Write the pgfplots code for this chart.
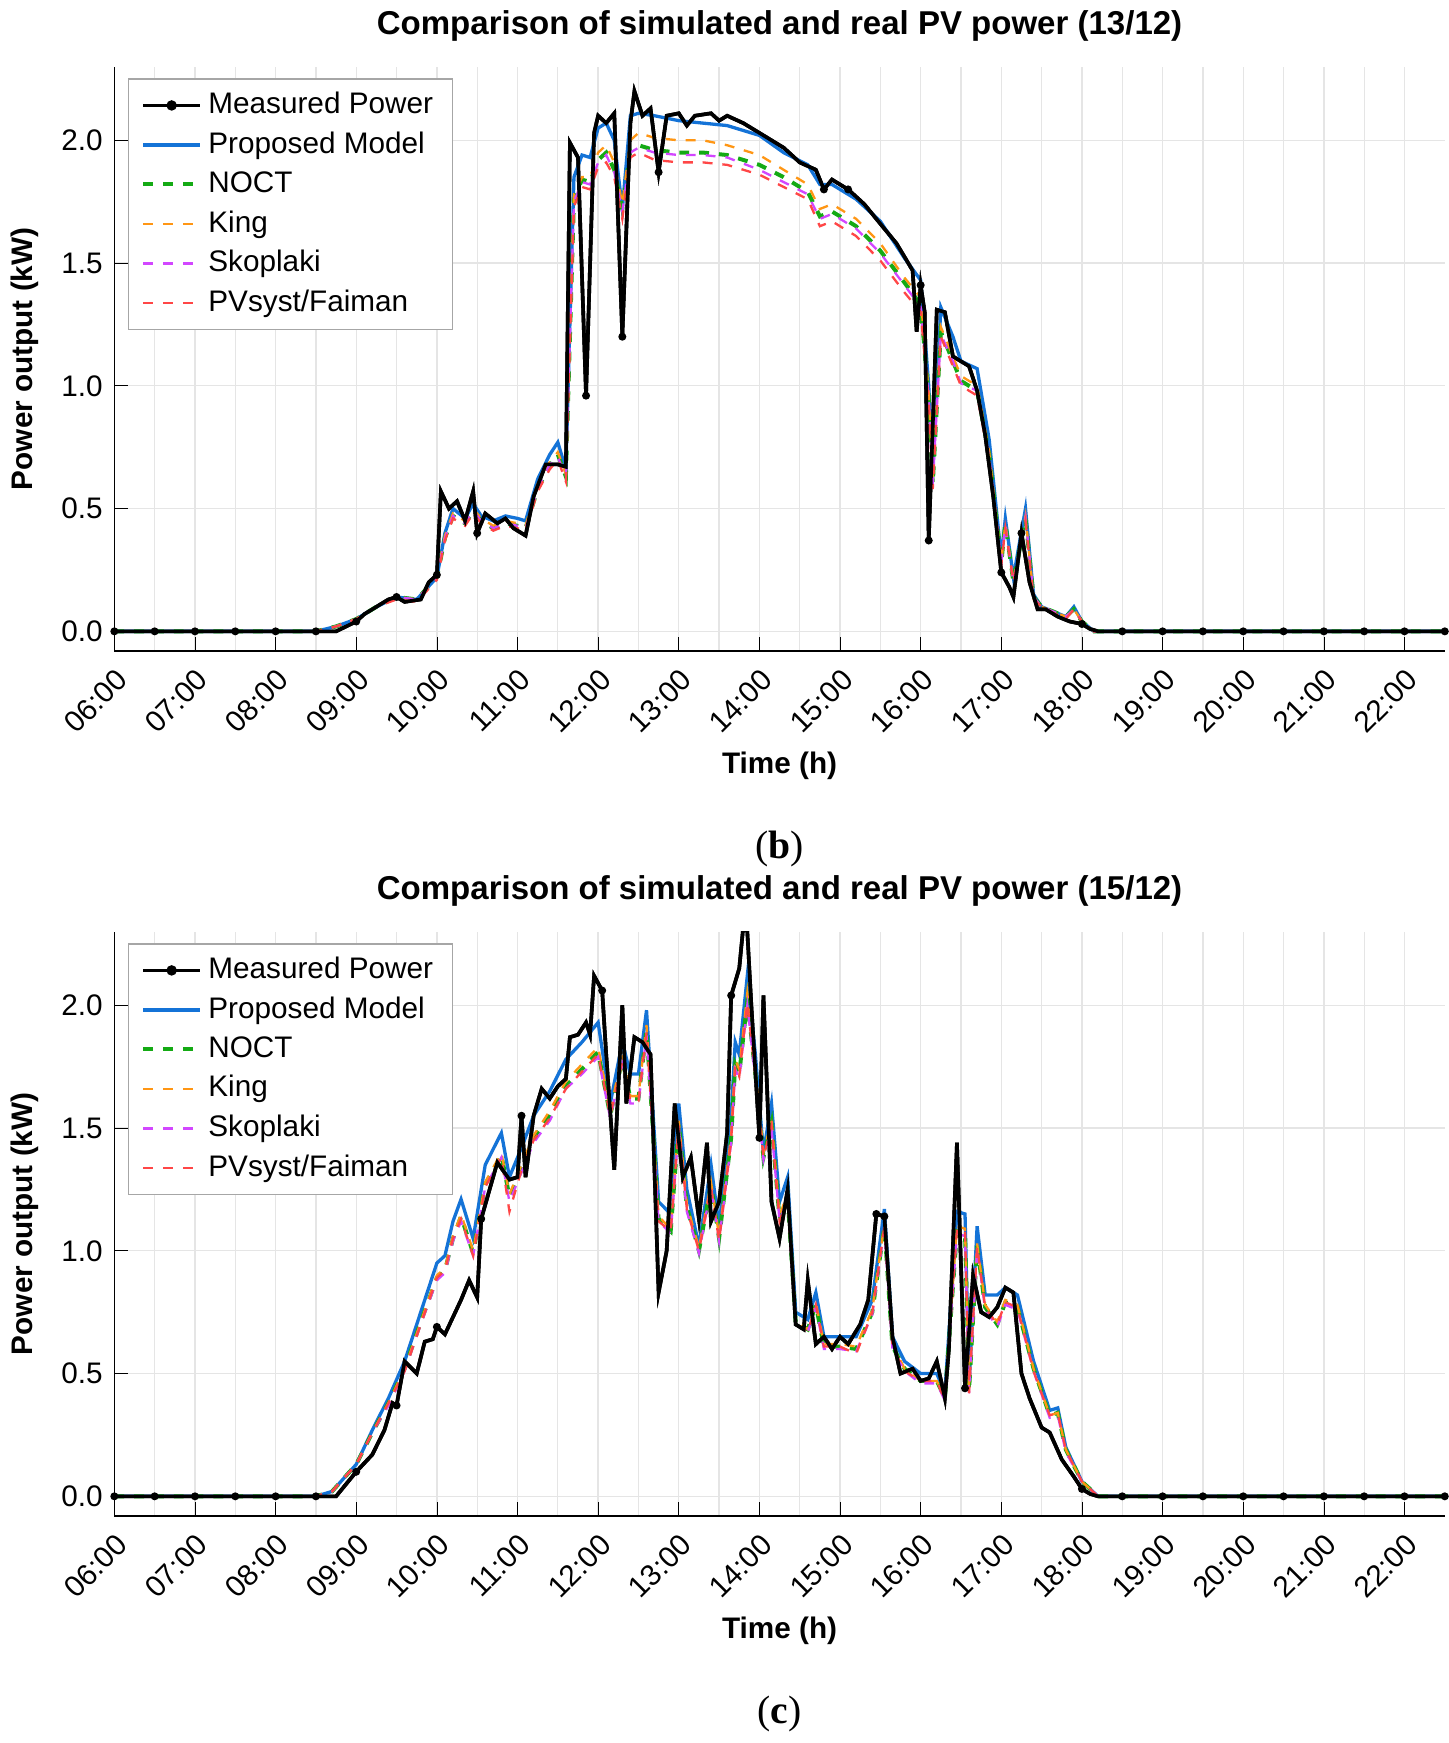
\documentclass[border=0pt]{standalone}
\usepackage{pgfplots}
\usepackage{pgfplotstable}
\pgfplotsset{compat=1.18}
\usepackage{fontspec}
\setmainfont{Liberation Sans}
\newfontfamily\seriffont{Liberation Serif}
\definecolor{cprop}{RGB}{20,115,215}
\definecolor{cnoct}{RGB}{20,170,20}
\definecolor{cking}{RGB}{255,150,20}
\definecolor{cskop}{RGB}{210,70,255}
\definecolor{cpvs}{RGB}{255,70,70}

\pgfplotstableread{
t m
6 0
8.5 0
8.75 0.0
9.0 0.04
9.1 0.07
9.25 0.1
9.4 0.13
9.5 0.14
9.6 0.12
9.8 0.13
9.9 0.2
10.0 0.23
10.05 0.57
10.15 0.5
10.25 0.53
10.35 0.45
10.45 0.57
10.5 0.4
10.6 0.48
10.75 0.44
10.85 0.46
10.95 0.42
11.1 0.39
11.2 0.55
11.35 0.68
11.5 0.68
11.6 0.67
11.65 1.99
11.75 1.93
11.85 0.96
11.95 2.03
12.0 2.1
12.1 2.07
12.2 2.11
12.3 1.2
12.4 2.07
12.45 2.2
12.55 2.1
12.65 2.13
12.75 1.87
12.85 2.1
13.0 2.11
13.1 2.06
13.2 2.1
13.4 2.11
13.5 2.08
13.6 2.1
13.8 2.07
14.0 2.03
14.3 1.97
14.5 1.91
14.7 1.88
14.8 1.8
14.9 1.84
15.1 1.8
15.3 1.74
15.5 1.66
15.7 1.58
15.9 1.47
15.95 1.22
16.0 1.41
16.05 1.3
16.1 0.37
16.2 1.31
16.3 1.3
16.4 1.12
16.6 1.08
16.7 0.98
16.8 0.8
16.9 0.55
17.0 0.24
17.1 0.18
17.15 0.14
17.25 0.4
17.35 0.2
17.45 0.09
17.55 0.09
17.7 0.06
17.85 0.04
18.0 0.03
18.1 0.01
18.2 0
22.5 0
}\measA

\pgfplotstableread{
t m
6 0
6.5 0
7 0
7.5 0
8 0
8.5 0
9 0.04
9.5 0.14
10 0.23
10.5 0.4
11.85 0.96
12.3 1.2
12.75 1.87
14.8 1.8
15.1 1.8
16.0 1.41
16.1 0.37
17.0 0.24
17.25 0.4
18.0 0.03
18.5 0
19 0
19.5 0
20 0
20.5 0
21 0
21.5 0
22 0
22.5 0
}\markA

\pgfplotstableread{
t p n k s f
6.0 0 0 0 0 0
8.5 0 0 0 0 0
8.75 0.02 0.02 0.02 0.02 0.02
9.0 0.05 0.05 0.05 0.05 0.05
9.25 0.1 0.1 0.1 0.1 0.1
9.5 0.14 0.14 0.14 0.14 0.13
9.75 0.13 0.13 0.13 0.13 0.12
10.0 0.22 0.22 0.22 0.22 0.21
10.1 0.4 0.38 0.39 0.38 0.37
10.2 0.5 0.47 0.48 0.47 0.46
10.35 0.46 0.44 0.45 0.44 0.43
10.45 0.52 0.49 0.5 0.49 0.48
10.55 0.47 0.45 0.46 0.45 0.44
10.7 0.45 0.42 0.43 0.42 0.41
10.85 0.47 0.44 0.45 0.44 0.43
11.0 0.46 0.43 0.44 0.43 0.42
11.1 0.45 0.42 0.43 0.42 0.41
11.25 0.62 0.58 0.6 0.58 0.57
11.4 0.72 0.68 0.69 0.68 0.66
11.5 0.77 0.72 0.73 0.71 0.7
11.6 0.66 0.63 0.64 0.63 0.61
11.7 1.85 1.76 1.78 1.75 1.73
11.8 1.94 1.84 1.85 1.83 1.81
11.9 1.93 1.83 1.85 1.82 1.8
12.0 2.05 1.92 1.95 1.91 1.89
12.1 2.07 1.95 1.98 1.94 1.91
12.2 2.0 1.88 1.91 1.87 1.85
12.3 1.72 1.72 1.74 1.71 1.68
12.4 2.1 1.96 2.0 1.95 1.93
12.5 2.11 1.98 2.03 1.97 1.95
12.7 2.1 1.96 2.01 1.95 1.92
13.0 2.08 1.95 2.0 1.94 1.91
13.3 2.07 1.95 2.0 1.94 1.91
13.6 2.06 1.94 1.98 1.93 1.9
14.0 2.02 1.9 1.94 1.88 1.86
14.3 1.95 1.85 1.88 1.83 1.81
14.6 1.9 1.79 1.82 1.78 1.76
14.75 1.82 1.69 1.72 1.68 1.65
14.9 1.82 1.71 1.74 1.7 1.67
15.2 1.76 1.65 1.68 1.64 1.61
15.5 1.67 1.55 1.58 1.54 1.51
15.8 1.52 1.42 1.44 1.41 1.38
16.0 1.43 1.33 1.36 1.32 1.3
16.1 1.0 0.95 0.97 0.95 0.93
16.15 0.65 0.6 0.62 0.6 0.58
16.25 1.32 1.22 1.24 1.21 1.2
16.4 1.2 1.1 1.12 1.1 1.08
16.5 1.1 1.02 1.04 1.01 1.0
16.7 1.07 0.98 1.0 0.98 0.96
16.85 0.78 0.72 0.73 0.71 0.7
17.0 0.3 0.28 0.28 0.28 0.27
17.05 0.46 0.44 0.44 0.43 0.42
17.15 0.22 0.2 0.2 0.2 0.2
17.3 0.5 0.46 0.47 0.46 0.45
17.4 0.15 0.14 0.14 0.14 0.13
17.5 0.1 0.1 0.1 0.1 0.1
17.8 0.06 0.06 0.06 0.06 0.05
17.9 0.1 0.09 0.09 0.09 0.09
18.0 0.04 0.04 0.04 0.04 0.04
18.15 0 0 0 0 0
22.5 0 0 0 0 0
}\modA

\pgfplotstableread{
t m
6 0
8.5 0
8.75 0.0
9.0 0.1
9.2 0.17
9.35 0.27
9.45 0.38
9.5 0.37
9.6 0.55
9.75 0.5
9.85 0.63
9.95 0.64
10.0 0.69
10.1 0.66
10.3 0.8
10.4 0.88
10.5 0.81
10.55 1.13
10.75 1.36
10.9 1.29
11.0 1.3
11.05 1.55
11.1 1.3
11.2 1.55
11.3 1.66
11.4 1.62
11.5 1.67
11.6 1.7
11.65 1.87
11.75 1.88
11.85 1.93
11.9 1.88
11.95 2.12
12.05 2.06
12.1 1.8
12.2 1.33
12.3 2.0
12.35 1.6
12.45 1.87
12.55 1.85
12.65 1.8
12.75 0.83
12.85 1.0
12.95 1.6
13.05 1.3
13.15 1.38
13.25 1.13
13.35 1.44
13.4 1.12
13.5 1.2
13.6 1.48
13.65 2.04
13.75 2.15
13.8 2.32
13.85 2.3
13.9 2.0
14.0 1.46
14.05 2.04
14.15 1.2
14.25 1.05
14.35 1.25
14.45 0.7
14.55 0.68
14.6 0.88
14.7 0.62
14.8 0.65
14.9 0.6
15.0 0.65
15.1 0.62
15.25 0.7
15.35 0.8
15.45 1.15
15.55 1.14
15.65 0.65
15.75 0.5
15.9 0.52
16.0 0.47
16.1 0.48
16.2 0.55
16.3 0.4
16.35 0.6
16.45 1.44
16.55 0.44
16.65 0.9
16.75 0.75
16.85 0.73
16.95 0.77
17.05 0.85
17.15 0.83
17.25 0.5
17.35 0.4
17.5 0.28
17.6 0.26
17.75 0.15
17.9 0.08
18.0 0.03
18.1 0.01
18.2 0
22.5 0
}\measB

\pgfplotstableread{
t m
6 0
6.5 0
7 0
7.5 0
8 0
8.5 0
9 0.1
9.5 0.37
10 0.69
10.55 1.13
11.05 1.55
12.05 2.06
13.65 2.04
14.0 1.46
15.45 1.15
15.55 1.14
16.55 0.44
18.0 0.03
18.5 0
19 0
19.5 0
20 0
20.5 0
21 0
21.5 0
22 0
22.5 0
}\markB

\pgfplotstableread{
t p n k s f
6.0 0 0 0 0 0
8.5 0 0 0 0 0
8.7 0.02 0.02 0.02 0.02 0.02
9.0 0.13 0.13 0.13 0.13 0.13
9.2 0.27 0.26 0.26 0.26 0.26
9.4 0.4 0.38 0.38 0.37 0.38
9.6 0.55 0.52 0.52 0.51 0.51
9.8 0.75 0.71 0.71 0.7 0.7
10.0 0.95 0.89 0.9 0.88 0.89
10.1 0.98 0.92 0.93 0.91 0.92
10.2 1.12 1.05 1.06 1.04 1.05
10.3 1.21 1.14 1.15 1.12 1.13
10.45 1.05 0.99 1.0 0.98 0.98
10.6 1.35 1.27 1.28 1.26 1.26
10.8 1.48 1.39 1.4 1.38 1.38
10.9 1.3 1.22 1.23 1.2 1.16
11.05 1.42 1.33 1.35 1.32 1.33
11.2 1.55 1.46 1.47 1.44 1.45
11.4 1.65 1.55 1.57 1.53 1.54
11.6 1.78 1.67 1.69 1.66 1.66
11.8 1.85 1.74 1.76 1.72 1.73
12.0 1.93 1.81 1.83 1.79 1.8
12.15 1.6 1.55 1.57 1.54 1.55
12.3 1.85 1.78 1.8 1.76 1.77
12.4 1.72 1.62 1.63 1.6 1.61
12.5 1.72 1.62 1.63 1.6 1.61
12.6 1.98 1.9 1.92 1.88 1.89
12.75 1.2 1.13 1.14 1.12 1.12
12.9 1.15 1.08 1.09 1.07 1.08
13.0 1.6 1.52 1.53 1.5 1.51
13.1 1.25 1.18 1.19 1.16 1.17
13.25 1.02 1.0 1.01 0.99 1.0
13.4 1.35 1.27 1.28 1.26 1.26
13.5 1.1 1.05 1.06 1.04 1.04
13.65 1.55 1.46 1.47 1.44 1.45
13.7 1.85 1.76 1.78 1.74 1.75
13.75 1.8 1.72 1.74 1.7 1.71
13.85 2.12 2.02 2.05 2.0 2.01
13.95 1.8 1.72 1.74 1.7 1.71
14.05 1.4 1.38 1.4 1.37 1.38
14.15 1.6 1.52 1.53 1.5 1.51
14.25 1.2 1.13 1.14 1.12 1.12
14.35 1.3 1.22 1.24 1.21 1.22
14.45 0.75 0.71 0.72 0.7 0.7
14.6 0.72 0.68 0.68 0.67 0.67
14.7 0.83 0.78 0.79 0.77 0.78
14.8 0.65 0.61 0.62 0.6 0.61
15.0 0.65 0.61 0.62 0.6 0.61
15.2 0.65 0.6 0.61 0.59 0.58
15.4 0.8 0.75 0.76 0.74 0.75
15.55 1.17 1.1 1.11 1.09 1.1
15.65 0.65 0.61 0.62 0.6 0.61
15.8 0.55 0.52 0.52 0.51 0.51
16.0 0.5 0.47 0.47 0.46 0.47
16.2 0.5 0.47 0.47 0.46 0.47
16.3 0.42 0.4 0.4 0.39 0.39
16.45 1.16 1.08 1.1 1.07 1.09
16.55 1.15 1.07 1.09 1.06 1.08
16.6 0.45 0.43 0.43 0.42 0.42
16.7 1.1 1.02 1.03 1.01 1.02
16.8 0.82 0.77 0.78 0.76 0.77
16.95 0.82 0.7 0.71 0.69 0.7
17.05 0.85 0.79 0.8 0.78 0.79
17.2 0.82 0.77 0.78 0.76 0.77
17.4 0.55 0.52 0.52 0.51 0.51
17.6 0.35 0.33 0.33 0.32 0.33
17.7 0.36 0.34 0.34 0.33 0.34
17.8 0.2 0.19 0.19 0.18 0.19
18.0 0.06 0.06 0.06 0.06 0.06
18.2 0 0 0 0 0
22.5 0 0 0 0 0
}\modB

\pgfplotsset{
  pvax/.style={
    scale only axis, width=403pt, height=177pt,
    xmin=6, xmax=22.5, ymin=-0.08, ymax=2.3,
    axis x line*=bottom, axis y line*=left,
    xtick={6,7,...,22},
    xticklabels={06:00,07:00,08:00,09:00,10:00,11:00,12:00,13:00,14:00,15:00,16:00,17:00,18:00,19:00,20:00,21:00,22:00},
    x tick label style={rotate=45, anchor=north east, font=\fontsize{9}{10}\selectfont},
    minor x tick num=1,
    ytick={0,0.5,1,1.5,2},
    yticklabel style={/pgf/number format/fixed, /pgf/number format/fixed zerofill, /pgf/number format/precision=1, font=\fontsize{9}{10}\selectfont},
    /pgf/number format/assume math mode=true,
    grid=both, major grid style={gray!20}, minor grid style={gray!20},
    tick style={black}, minor tick length=0pt,
    xlabel={\bfseries Time (h)}, ylabel={\bfseries Power output (kW)},
    label style={font=\fontsize{9}{10}\selectfont},
    xlabel style={yshift=3pt},
    legend pos=north west,
    legend cell align=left,
    legend style={font=\fontsize{9}{11}\selectfont, draw=gray!70, rounded corners=0pt, at={(0.01,0.98)}, anchor=north west, inner xsep=4pt, inner ysep=2pt},
    legend image post style={},
    title style={font=\bfseries\fontsize{10}{12}\selectfont, yshift=-2pt},
  }
}

\begin{document}
\begin{tikzpicture}
\begin{axis}[pvax, name=a1, title={Comparison of simulated and real PV power (13/12)}]
\addplot[black, line width=1.1pt, legend image post style={mark=*, mark size=1pt}] table[x=t,y=m]{\measA};
\addlegendentry{Measured Power}
\addplot[cprop, line width=1pt] table[x=t,y=p]{\modA};
\addlegendentry{Proposed Model}
\addplot[cnoct, line width=1.2pt, dashed] table[x=t,y=n]{\modA};
\addlegendentry{NOCT}
\addplot[cking, line width=0.7pt, dashed] table[x=t,y=k]{\modA};
\addlegendentry{King}
\addplot[cskop, line width=0.7pt, dashed] table[x=t,y=s]{\modA};
\addlegendentry{Skoplaki}
\addplot[cpvs, line width=0.7pt, dashed] table[x=t,y=f]{\modA};
\addlegendentry{PVsyst/Faiman}
\addplot[black, line width=1.1pt] table[x=t,y=m]{\measA};
\addplot[only marks, mark=*, mark size=1pt, black, forget plot] table[x=t,y=m]{\markA};
\end{axis}
\node[font=\seriffont\fontsize{11}{13}\selectfont] at ([yshift=-262pt]a1.south) {};
\begin{axis}[pvax, name=a2, at={(0,-262pt)}, title={Comparison of simulated and real PV power (15/12)}]
\addplot[black, line width=1.1pt, legend image post style={mark=*, mark size=1pt}] table[x=t,y=m]{\measB};
\addlegendentry{Measured Power}
\addplot[cprop, line width=1pt] table[x=t,y=p]{\modB};
\addlegendentry{Proposed Model}
\addplot[cnoct, line width=1.2pt, dashed] table[x=t,y=n]{\modB};
\addlegendentry{NOCT}
\addplot[cking, line width=0.7pt, dashed] table[x=t,y=k]{\modB};
\addlegendentry{King}
\addplot[cskop, line width=0.7pt, dashed] table[x=t,y=s]{\modB};
\addlegendentry{Skoplaki}
\addplot[cpvs, line width=0.7pt, dashed] table[x=t,y=f]{\modB};
\addlegendentry{PVsyst/Faiman}
\addplot[black, line width=1.1pt] table[x=t,y=m]{\measB};
\addplot[only marks, mark=*, mark size=1pt, black, forget plot] table[x=t,y=m]{\markB};
\end{axis}
\node[font=\seriffont\fontsize{12}{14}\selectfont] at (201.5pt,-60pt) {(\textbf{b})};
\node[font=\seriffont\fontsize{12}{14}\selectfont] at (201.5pt,-322pt) {(\textbf{c})};
\end{tikzpicture}
\end{document}
